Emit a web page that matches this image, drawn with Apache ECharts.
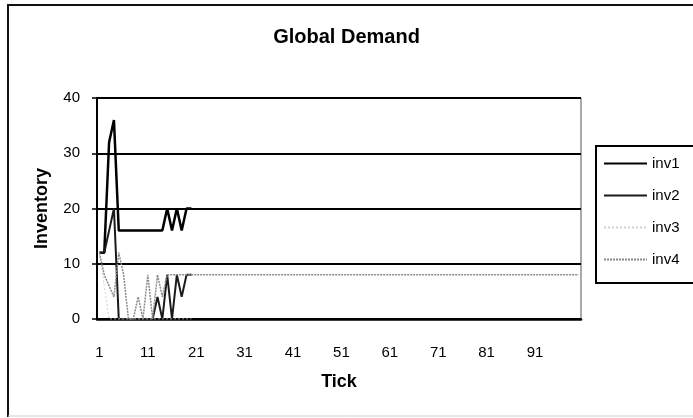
<!DOCTYPE html>
<html>
<head>
<meta charset="utf-8">
<script src="https://cdn.jsdelivr.net/npm/echarts@6/dist/echarts.min.js"></script>
<style>
html,body{margin:0;padding:0;background:#fff;}
#chart{width:693px;height:418px;}
</style>
</head>
<body>
<div id="chart"></div>
<script>
var ticks = ['1','2','3','4','5','6','7','8','9','10','11','12','13','14','15','16','17','18','19','20',
'21','22','23','24','25','26','27','28','29','30','31','32','33','34','35','36','37','38','39','40',
'41','42','43','44','45','46','47','48','49','50','51','52','53','54','55','56','57','58','59','60',
'61','62','63','64','65','66','67','68','69','70','71','72','73','74','75','76','77','78','79','80',
'81','82','83','84','85','86','87','88','89','90','91','92','93','94','95','96','97','98','99','100'];

var inv1 = [12,12,32,36,16,16,16,16,16,16,16,16,16,16,20,16,20,16,20,20];
var inv2 = [12,12,16,20,0,0,0,0,0,0,0,0,4,0,8,0,8,4,8,8];
var inv3 = [12,6,0,0,0,0,0,0,0,0,0,0,0,0,0,0,0,0,0,0];
var inv4 = [12,8,6,4,12,8,0,0,4,0,8,0,8,4,8,8,8,8,8,8,
8,8,8,8,8,8,8,8,8,8,8,8,8,8,8,8,8,8,8,8,
8,8,8,8,8,8,8,8,8,8,8,8,8,8,8,8,8,8,8,8,
8,8,8,8,8,8,8,8,8,8,8,8,8,8,8,8,8,8,8,8,
8,8,8,8,8,8,8,8,8,8,8,8,8,8,8,8,8,8,8,8];

var yTicks = [0,10,20,30,40];

var chart = echarts.init(document.getElementById('chart'), null, {renderer:'canvas'});
var font = 'Liberation Sans, Arial, sans-serif';
chart.setOption({
  animation:false,
  backgroundColor:'#fff',
  title:{
    text:'Global Demand', left:'center', top:22,
    textStyle:{fontFamily:font, fontSize:20, fontWeight:'bold', color:'#000'}
  },
  graphic:[
    {type:'polyline', shape:{points:[[8,417],[8,5],[693,5]]}, style:{stroke:'#111', lineWidth:2, fill:null}},
    {type:'line', shape:{x1:8,y1:416,x2:693,y2:416}, style:{stroke:'#ccc', lineWidth:1}}
  ],
  legend:{
    left:596, top:146, orient:'vertical',
    padding:[10,60,16,7],
    borderColor:'#000', borderWidth:2,
    itemWidth:43, itemHeight:14, itemGap:17,
    itemStyle:{opacity:0},
    textStyle:{fontFamily:font, fontSize:15, color:'#000'},
    data:['inv1','inv2','inv3','inv4']
  },
  grid:{left:97, right:112, top:98, bottom:99, show:true, borderColor:'#555', borderWidth:1},
  xAxis:{
    type:'category', data:ticks, boundaryGap:true,
    name:'Tick', nameLocation:'middle', nameGap:54,
    nameTextStyle:{fontFamily:font, fontSize:18, fontWeight:'bold', color:'#000'},
    axisLine:{lineStyle:{color:'#000', width:2.5}},
    axisTick:{interval:9, length:6, lineStyle:{color:'#000', width:2}},
    axisLabel:{interval:9, margin:26, fontFamily:font, fontSize:15, color:'#000'},
    splitLine:{show:false}
  },
  yAxis:{
    type:'value', min:0, max:40, interval:10,
    name:'Inventory', nameLocation:'middle', nameGap:46,
    nameTextStyle:{fontFamily:font, fontSize:18, fontWeight:'bold', color:'#000'},
    axisLine:{show:true, lineStyle:{color:'#000', width:2}},
    axisTick:{show:true, length:5, lineStyle:{color:'#000', width:1.5}},
    axisLabel:{margin:17, fontFamily:font, fontSize:15, color:'#000',
      formatter:function(v){return yTicks.indexOf(v)>=0 ? String(v) : '';}},
    splitLine:{show:true, lineStyle:{color:'#000', width:2}}
  },
  series:[
    {name:'inv1', type:'line', data:inv1, symbol:'none', lineStyle:{color:'#000', width:2.5}, itemStyle:{color:'#000'}},
    {name:'inv2', type:'line', data:inv2, symbol:'none', lineStyle:{color:'#1a1a1a', width:2}, itemStyle:{color:'#1a1a1a'}},
    {name:'inv3', type:'line', data:inv3, symbol:'none', lineStyle:{color:'#d0d0d0', width:1, type:[2,2]}, itemStyle:{color:'#d0d0d0'}},
    {name:'inv4', type:'line', data:inv4, symbol:'none', lineStyle:{color:'#8a8a8a', width:1.5, type:[2,1]}, itemStyle:{color:'#8a8a8a'}}
  ]
});
</script>
</body>
</html>
